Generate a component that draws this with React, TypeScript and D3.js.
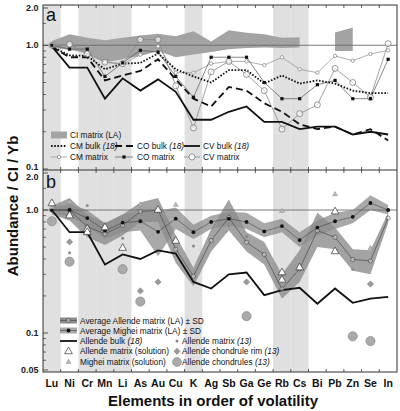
import React from "react";
import * as d3 from "d3";

// ---------- data ----------
const ELEMENTS = ["Lu","Ni","Cr","Mn","Li","As","Au","Cu","K","Ag","Sb","Ga","Ge","Rb","Cs","Bi","Pb","Zn","Se","In"];
const SHADED = ["Lu","Cr","Mn","Li","K","Rb","Cs"];

// panel a
const CI_UPPER = [1.08,1.23,1.15,1.10,1.15,1.20,1.24,1.18,1.30,1.07,1.32,1.26,1.23,1.15,1.16,null,1.27,1.39,null,null];
const CI_LOWER = [0.95,0.92,0.86,0.73,0.77,0.82,0.90,0.80,0.84,0.88,0.93,0.95,0.96,0.95,0.96,null,0.90,0.90,null,null];
const CM_BULK = [0.97,0.83,0.82,0.64,0.71,0.72,0.86,0.64,0.56,0.50,0.63,0.63,0.49,0.57,0.49,0.52,0.49,0.43,0.41,0.41];
const CO_BULK = [0.97,0.80,0.80,0.52,0.57,0.62,0.77,0.53,0.37,0.32,0.46,0.43,0.34,0.29,0.23,0.21,0.22,0.19,0.21,0.17];
const CV_BULK = [0.98,0.66,0.66,0.37,0.54,0.43,0.53,0.42,0.25,0.25,0.29,0.32,0.24,0.24,0.21,0.22,0.22,0.19,0.20,0.19];
const CM_MATRIX = [1.0,1.0,0.88,0.73,0.70,0.84,0.98,0.60,0.60,0.71,0.74,0.74,0.69,0.80,0.64,0.60,0.82,0.75,0.85,0.91];
const CO_MATRIX = [1.0,0.93,0.93,0.56,0.72,0.91,0.88,0.56,0.38,0.80,0.80,0.80,0.50,0.37,0.37,0.48,0.52,0.37,0.37,0.77];
const CV_MATRIX = [1.0,1.02,0.85,0.73,0.71,1.11,1.11,0.47,0.215,0.61,0.74,0.58,0.43,0.21,0.28,0.33,0.65,0.50,0.38,1.03];

// panel b
const ALLENDE_AVG = [1.0,1.0,0.73,0.64,0.75,0.97,1.0,0.48,0.29,0.565,0.87,0.547,0.435,0.228,0.333,0.68,0.60,0.396,0.386,0.86];
const ALLENDE_UP = [1.08,1.25,0.92,0.78,0.92,1.15,1.25,0.62,0.34,0.70,1.22,0.66,0.55,0.30,0.47,0.95,0.72,0.48,0.47,0.95];
const ALLENDE_LO = [0.92,0.82,0.60,0.52,0.62,0.80,0.80,0.37,0.24,0.46,0.68,0.46,0.36,0.19,0.26,0.50,0.48,0.32,0.30,0.78];
const MIGHEI_AVG = [1.0,1.0,0.86,0.68,0.79,0.81,0.665,0.85,0.66,0.80,0.85,0.80,0.67,0.74,0.57,0.72,0.81,0.88,1.14,1.0];
const MIGHEI_UP = [1.06,1.12,1.0,0.78,0.92,0.98,0.98,1.05,0.76,0.90,0.97,0.95,0.78,0.85,0.66,0.82,0.95,1.0,1.32,1.1];
const MIGHEI_LO = [0.94,0.88,0.75,0.58,0.66,0.68,0.42,0.70,0.58,0.70,0.75,0.70,0.60,0.66,0.50,0.62,0.70,0.78,1.0,0.92];
const ALLENDE_BULK = [1.0,0.66,0.66,0.36,0.435,0.40,0.47,0.443,0.26,0.23,0.30,0.31,0.203,0.223,0.233,0.173,0.23,0.176,0.19,0.197];

const ALLENDE_SOLUTION: [string, number][] = [["Lu",1.13],["Ni",0.90],["Cr",0.70],["Cr",0.66],["Mn",0.72],["Li",0.49],["Au",1.0],["Cu",0.56],["Rb",0.31],["Rb",0.27],["Cs",0.34],["Pb",0.46],["Pb",0.97]];
const MIGHEI_SOLUTION: [string, number][] = [["Lu",1.05],["Ni",1.16],["Mn",0.76],["As",1.11],["Cu",1.10],["Rb",0.98],["Pb",1.34],["Se",0.49]];
const ALLENDE_MATRIX_13: [string, number][] = [["Ni",0.45],["Cr",1.09],["Li",0.59],["K",0.51],["Sb",0.74],["Ga",0.61],["Zn",0.33]];
const ALLENDE_RIM_13: [string, number][] = [["Ni",0.55],["As",0.22],["Au",0.26],["Ga",0.26],["Se",0.25]];
const ALLENDE_CHONDRULES_13: [string, number][] = [["Lu",0.81],["Ni",0.38],["Li",0.33],["As",0.18],["Ga",0.137],["Zn",0.094],["Se",0.086]];

const TICKS_A = [2.0, 1.0, 0.1];
const TICKS_B = [2.0, 1.0, 0.1, 0.05];
const MINOR_A = [0.2,0.3,0.4,0.5,0.6,0.7,0.8,0.9,1.5];
const MINOR_B = [0.06,0.07,0.08,0.09,0.2,0.3,0.4,0.5,0.6,0.7,0.8,0.9,1.5];

// ---------- layout ----------
const W = 400, H = 411;
const X0 = 43, X1 = 397;
const A_TOP = 5, MID = 170, B_BOT = 372;
const FONT = "'Liberation Sans', Arial, Helvetica, sans-serif";

const x = d3.scaleBand<string>().domain(ELEMENTS).range([X0, X1]);
const cx = (e: string) => (x(e) as number) + x.bandwidth() / 2;
const yA = d3.scaleLog().domain([0.1, 2]).range([169, 8]);
const yB = d3.scaleLog().domain([0.05, 2]).range([370, 173]);

type P = [string, number | null];
const zip = (vals: (number | null)[]): P[] => ELEMENTS.map((e, i) => [e, vals[i]]);

const lineGen = (y: d3.ScaleLogarithmic<number, number>) =>
  d3.line<P>().defined(d => d[1] != null).x(d => cx(d[0])).y(d => y(d[1] as number));

const areaGen = (y: d3.ScaleLogarithmic<number, number>, up: (number | null)[], lo: (number | null)[]) =>
  d3.area<string>()
    .defined((_, i) => up[i] != null && lo[i] != null)
    .x(e => cx(e))
    .y0((_, i) => y(lo[i] as number))
    .y1((_, i) => y(up[i] as number))(ELEMENTS) as string;

const sym = (type: d3.SymbolType, size: number) => d3.symbol().type(type).size(size)() as string;

const CI_FILL = "#a3a3a3";
const BAND_FILL = "#8c8c8c";

function Markers({ vals, y, kind }: { vals: (number | null)[]; y: any; kind: string }) {
  return (
    <g>
      {ELEMENTS.map((e, i) => {
        const v = vals[i];
        if (v == null) return null;
        const px = cx(e), py = y(v);
        if (kind === "cmm") return <circle key={e} cx={px} cy={py} r={1.7} fill="#fff" stroke="#808080" strokeWidth={0.7} />;
        if (kind === "com") return <rect key={e} x={px - 1.6} y={py - 1.6} width={3.2} height={3.2} fill="#111" />;
        if (kind === "cvm") return <circle key={e} cx={px} cy={py} r={3} fill="#fff" fillOpacity={0.6} stroke="#707070" strokeWidth={0.7} />;
        if (kind === "alm") return <circle key={e} cx={px} cy={py} r={2.1} fill="#fff" fillOpacity={0.4} stroke="#444" strokeWidth={0.6} />;
        if (kind === "mim") return <circle key={e} cx={px} cy={py} r={1.9} fill="#111" />;
        return null;
      })}
    </g>
  );
}

function Scatter({ pts, kind }: { pts: [string, number][]; kind: string }) {
  return (
    <g>
      {pts.map(([e, v], i) => {
        const px = cx(e), py = yB(v);
        const t = `translate(${px},${py})`;
        if (kind === "asol") return <path key={i} transform={t} d={sym(d3.symbolTriangle, 26)} fill="#fff" stroke="#333" strokeWidth={0.7} />;
        if (kind === "msol") return <path key={i} transform={t} d={sym(d3.symbolTriangle, 10)} fill="#bbb" stroke="#888" strokeWidth={0.5} />;
        if (kind === "am13") return <circle key={i} cx={px} cy={py} r={1.5} fill="#8a8a8a" />;
        if (kind === "rim") return <rect key={i} x={-2.2} y={-2.2} width={4.4} height={4.4} transform={`${t} rotate(45)`} fill="#9a9a9a" stroke="#777" strokeWidth={0.5} />;
        if (kind === "chd") return <circle key={i} cx={px} cy={py} r={4.6} fill="#aaa" stroke="#808080" strokeWidth={0.6} />;
        return null;
      })}
    </g>
  );
}

export default function App() {
  const lA = lineGen(yA);
  const lB = lineGen(yB);
  const bandW = x.bandwidth();
  const boundaries = d3.range(1, ELEMENTS.length).map(i => X0 + i * bandW);

  const legendText = { fontFamily: FONT, fontSize: 8.3, fill: "#111" } as const;

  return (
    <svg width={W} height={H} style={{ position: "absolute", left: 0, top: 0, background: "#fff" }}>
      {/* shaded element columns */}
      {SHADED.map(e => (
        <rect key={e} x={x(e)} y={A_TOP} width={bandW} height={B_BOT - A_TOP} fill="#e0e0e0" />
      ))}

      {/* ---------- panel a ---------- */}
      <path d={areaGen(yA, CI_UPPER, CI_LOWER)} fill={CI_FILL} />
      <line x1={X0} x2={X1} y1={yA(1)} y2={yA(1)} stroke="#6a6a6a" strokeWidth={0.9} />
      <path d={lA(zip(CM_MATRIX)) as string} fill="none" stroke="#9a9a9a" strokeWidth={0.8} />
      <path d={lA(zip(CO_MATRIX)) as string} fill="none" stroke="#555" strokeWidth={0.7} />
      <path d={lA(zip(CV_MATRIX)) as string} fill="none" stroke="#8a8a8a" strokeWidth={0.8} />
      <path d={lA(zip(CM_BULK)) as string} fill="none" stroke="#111" strokeWidth={1.8} strokeDasharray="1.6,1.6" />
      <path d={lA(zip(CO_BULK)) as string} fill="none" stroke="#111" strokeWidth={1.8} strokeDasharray="7,4" />
      <path d={lA(zip(CV_BULK)) as string} fill="none" stroke="#111" strokeWidth={1.8} />
      <Markers vals={CM_MATRIX} y={yA} kind="cmm" />
      <Markers vals={CV_MATRIX} y={yA} kind="cvm" />
      <Markers vals={CO_MATRIX} y={yA} kind="com" />
      <text x={46} y={21} fontFamily={FONT} fontSize={18} fill="#111">a</text>

      {/* legend a */}
      <g>
        <rect x={51} y={131.5} width={16} height={7} fill={CI_FILL} />
        <text x={70} y={138} {...legendText}>CI matrix (LA)</text>

        <line x1={51} x2={67} y1={146} y2={146} stroke="#111" strokeWidth={1.8} strokeDasharray="1.6,1.6" />
        <text x={70} y={149} {...legendText}>CM bulk <tspan fontStyle="italic">(18)</tspan></text>
        <line x1={115} x2={133} y1={146} y2={146} stroke="#111" strokeWidth={1.8} strokeDasharray="7,4" />
        <text x={137} y={149} {...legendText}>CO bulk <tspan fontStyle="italic">(18)</tspan></text>
        <line x1={184} x2={200} y1={146} y2={146} stroke="#111" strokeWidth={1.8} />
        <text x={203} y={149} {...legendText}>CV bulk <tspan fontStyle="italic">(18)</tspan></text>

        <line x1={51} x2={67} y1={157} y2={157} stroke="#9a9a9a" strokeWidth={0.8} />
        <circle cx={59} cy={157} r={1.7} fill="#fff" stroke="#808080" strokeWidth={0.7} />
        <text x={70} y={160} {...legendText}>CM matrix</text>
        <line x1={115} x2={133} y1={157} y2={157} stroke="#555" strokeWidth={0.7} />
        <rect x={122.4} y={155.4} width={3.2} height={3.2} fill="#111" />
        <text x={137} y={160} {...legendText}>CO matrix</text>
        <line x1={184} x2={200} y1={157} y2={157} stroke="#8a8a8a" strokeWidth={0.8} />
        <circle cx={192} cy={157} r={3} fill="#fff" stroke="#707070" strokeWidth={0.7} />
        <text x={203} y={160} {...legendText}>CV matrix</text>
      </g>

      {/* ---------- panel b ---------- */}
      <path d={areaGen(yB, MIGHEI_UP, MIGHEI_LO)} fill={BAND_FILL} fillOpacity={0.75} />
      <path d={areaGen(yB, ALLENDE_UP, ALLENDE_LO)} fill={BAND_FILL} fillOpacity={0.8} />
      <line x1={X0} x2={X1} y1={yB(1)} y2={yB(1)} stroke="#6a6a6a" strokeWidth={0.9} />
      <path d={lB(zip(ALLENDE_AVG)) as string} fill="none" stroke="#555" strokeWidth={0.8} />
      <path d={lB(zip(MIGHEI_AVG)) as string} fill="none" stroke="#444" strokeWidth={0.6} />
      <path d={lB(zip(ALLENDE_BULK)) as string} fill="none" stroke="#111" strokeWidth={1.8} />
      <Markers vals={ALLENDE_AVG} y={yB} kind="alm" />
      <Markers vals={MIGHEI_AVG} y={yB} kind="mim" />
      <Scatter pts={ALLENDE_CHONDRULES_13} kind="chd" />
      <Scatter pts={ALLENDE_RIM_13} kind="rim" />
      <Scatter pts={ALLENDE_MATRIX_13} kind="am13" />
      <Scatter pts={MIGHEI_SOLUTION} kind="msol" />
      <Scatter pts={ALLENDE_SOLUTION} kind="asol" />
      <text x={46} y={188} fontFamily={FONT} fontSize={18} fill="#111">b</text>

      {/* legend b */}
      <g>
        <rect x={60} y={317.5} width={17} height={6} fill={BAND_FILL} />
        <line x1={60} x2={77} y1={320.5} y2={320.5} stroke="#555" strokeWidth={0.8} />
        <circle cx={68.5} cy={320.5} r={2.1} fill="#fff" fillOpacity={0.4} stroke="#444" strokeWidth={0.6} />
        <text x={80} y={323.5} {...legendText}>Average Allende matrix (LA) ± SD</text>

        <rect x={60} y={327.5} width={17} height={6} fill={BAND_FILL} fillOpacity={0.75} />
        <line x1={60} x2={77} y1={330.5} y2={330.5} stroke="#444" strokeWidth={0.6} />
        <circle cx={68.5} cy={330.5} r={1.9} fill="#111" />
        <text x={80} y={333.5} {...legendText}>Average Mighei matrix (LA) ± SD</text>

        <line x1={60} x2={77} y1={341} y2={341} stroke="#111" strokeWidth={1.8} />
        <text x={80} y={344} {...legendText}>Allende bulk <tspan fontStyle="italic">(18)</tspan></text>

        <path transform="translate(68.5,351.5)" d={sym(d3.symbolTriangle, 26)} fill="#fff" stroke="#333" strokeWidth={0.7} />
        <text x={80} y={354.3} {...legendText}>Allende matrix (solution)</text>

        <path transform="translate(68.5,362)" d={sym(d3.symbolTriangle, 10)} fill="#bbb" stroke="#888" strokeWidth={0.5} />
        <text x={80} y={365} {...legendText}>Mighei matrix (solution)</text>

        <circle cx={177} cy={341} r={1.5} fill="#8a8a8a" />
        <text x={182} y={344} {...legendText}>Allende matrix <tspan fontStyle="italic">(13)</tspan></text>
        <rect x={-2.2} y={-2.2} width={4.4} height={4.4} transform="translate(177,351.3) rotate(45)" fill="#9a9a9a" stroke="#777" strokeWidth={0.5} />
        <text x={182} y={354.3} {...legendText}>Allende chondrule rim <tspan fontStyle="italic">(13)</tspan></text>
        <circle cx={177} cy={362} r={4.4} fill="#aaa" stroke="#808080" strokeWidth={0.6} />
        <text x={182} y={365} {...legendText}>Allende chondrules <tspan fontStyle="italic">(13)</tspan></text>
      </g>

      {/* ---------- frame & ticks ---------- */}
      <rect x={X0} y={A_TOP} width={X1 - X0} height={B_BOT - A_TOP} fill="none" stroke="#333" strokeWidth={1} />
      <line x1={X0} x2={X1} y1={MID} y2={MID} stroke="#333" strokeWidth={1} />
      {boundaries.map((bx, i) => (
        <g key={i} stroke="#333" strokeWidth={0.8}>
          <line x1={bx} x2={bx} y1={A_TOP} y2={A_TOP + 3} />
          <line x1={bx} x2={bx} y1={MID - 3} y2={MID} />
          <line x1={bx} x2={bx} y1={MID} y2={MID + 3} />
          <line x1={bx} x2={bx} y1={B_BOT - 3} y2={B_BOT} />
        </g>
      ))}
      {TICKS_A.map(t => (
        <g key={"a" + t}>
          <line x1={X0} x2={X0 + 5} y1={yA(t)} y2={yA(t)} stroke="#333" strokeWidth={0.8} />
          <text x={38.5} y={t === 0.1 ? 167 : yA(t)} dy="0.35em" textAnchor="end" fontFamily={FONT} fontWeight="bold" fontSize={9} fill="#222">{t.toFixed(1)}</text>
        </g>
      ))}
      {MINOR_A.map(t => (
        <line key={"ma" + t} x1={X0} x2={X0 + 3} y1={yA(t)} y2={yA(t)} stroke="#333" strokeWidth={0.7} />
      ))}
      {TICKS_B.map(t => (
        <g key={"b" + t}>
          <line x1={X0} x2={X0 + 5} y1={yB(t)} y2={yB(t)} stroke="#333" strokeWidth={0.8} />
          <text x={38.5} y={t === 2 ? 177 : yB(t)} dy="0.35em" textAnchor="end" fontFamily={FONT} fontWeight="bold" fontSize={9} fill="#222">{t === 0.05 ? "0.05" : t.toFixed(1)}</text>
        </g>
      ))}
      {MINOR_B.map(t => (
        <line key={"mb" + t} x1={X0} x2={X0 + 3} y1={yB(t)} y2={yB(t)} stroke="#333" strokeWidth={0.7} />
      ))}

      {/* x labels */}
      {ELEMENTS.map(e => (
        <text key={e} x={cx(e)} y={387} textAnchor="middle" fontFamily={FONT} fontWeight="bold" fontSize={10.5} fill="#111">{e}</text>
      ))}
      <text x={213} y={406} textAnchor="middle" fontFamily={FONT} fontWeight="bold" fontSize={15} fill="#111">Elements in order of volatility</text>
      <text transform="translate(18,206) rotate(-90)" textAnchor="middle" fontFamily={FONT} fontWeight="bold" fontSize={15} fill="#111">Abundance / CI / Yb</text>
    </svg>
  );
}
